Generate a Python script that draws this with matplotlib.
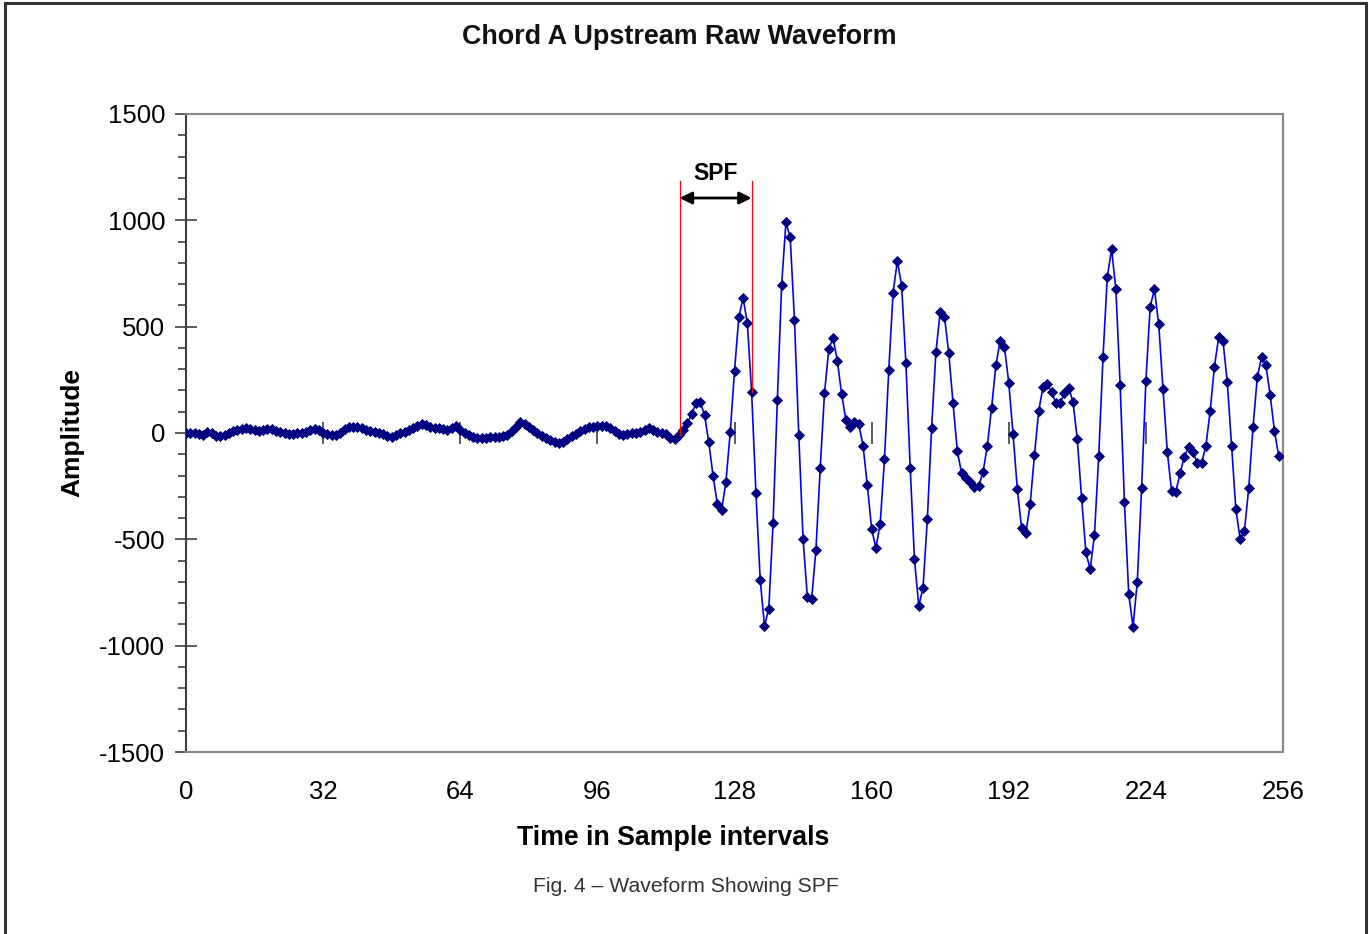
import matplotlib
matplotlib.use("Agg")
import matplotlib.pyplot as plt
from matplotlib.patches import Rectangle
from matplotlib.ticker import MultipleLocator

plt.rcParams['font.family'] = ['Liberation Sans', 'DejaVu Sans']

title = "Chord A Upstream Raw Waveform"
x_label = "Time in Sample intervals"
y_label = "Amplitude"
caption = "Fig. 4 \u2013 Waveform Showing SPF"
spf_label = "SPF"

x_ticks = [0, 32, 64, 96, 128, 160, 192, 224, 256]
y_ticks = [-1500, -1000, -500, 0, 500, 1000, 1500]

# Sample values, index 0..255
amplitude = [
    0, 2, 0, -5, -8, 3, -2, -12, -15, -8,
    0, 8, 14, 20, 22, 18, 12, 10, 15, 20,
    18, 10, 4, -2, -6, -3, 0, 2, 5, 12,
    20, 14, 0, -5, -9, -8, -2, 18, 26, 28,
    30, 24, 14, 8, 4, 0, -6, -14, -17, -10,
    -2, 6, 14, 24, 34, 42, 38, 30, 24, 22,
    18, 15, 22, 32, 14, 0, -10, -18, -22, -24,
    -22, -20, -20, -18, -16, -8, 8, 30, 52, 40,
    26, 12, 0, -12, -22, -32, -42, -47, -40, -28,
    -16, -4, 8, 20, 26, 30, 32, 34, 31, 22,
    8, -4, -8, -6, -2, 0, 4, 12, 22, 16,
    4, 0, -5, -22, -30, -10, 14, 45, 88, 140,
    146, 85, -44, -202, -334, -362, -229, 3, 291, 544,
    636, 516, 191, -281, -691, -907, -826, -425, 155, 697,
    990, 920, 530, -11, -498, -769, -780, -550, -166, 187,
    395, 447, 340, 182, 61, 27, 53, 41, -60, -246,
    -451, -541, -426, -122, 296, 657, 810, 693, 328, -163,
    -594, -813, -727, -406, 25, 379, 570, 547, 375, 140,
    -85, -190, -213, -232, -252, -248, -185, -60, 119, 320,
    434, 403, 237, -5, -263, -448, -469, -334, -103, 105,
    218, 229, 194, 140, 142, 187, 213, 144, -30, -307,
    -561, -641, -480, -107, 359, 735, 864, 676, 224, -326,
    -758, -911, -699, -260, 244, 594, 676, 511, 205, -88,
    -273, -276, -187, -111, -64, -88, -143, -143, -61, 103,
    312, 453, 432, 238, -61, -359, -500, -459, -260, 27,
    262, 356, 320, 179, 11, -108,
]
samples = list(range(len(amplitude)))

# SPF marker lines (sample positions and heights)
spf_start = 115.2
spf_end = 132
spf_top = 1185
spf_arrow_y = 1105
spf_text_y = 1220

W, H = 1369, 934
fig = plt.figure(figsize=(W / 100, H / 100), dpi=100)
fig.patch.set_facecolor('white')

ax = fig.add_axes([186 / W, 1 - 752 / H, (1283 - 186) / W, (752 - 114) / H])
ax.set_xlim(0, 256)
ax.set_ylim(-1500, 1500)

ax.plot(samples, amplitude, color='#0000FF', linewidth=1.2, zorder=3,
        marker='D', markersize=5.6, markerfacecolor='#000080',
        markeredgecolor='#000080', markeredgewidth=0.6)

# SPF annotation
ax.plot([spf_start, spf_start], [amplitude[115], spf_top], color='#FF0000', linewidth=0.9, zorder=4)
ax.plot([spf_end, spf_end], [amplitude[132], spf_top], color='#FF0000', linewidth=0.9, zorder=4)
ax.annotate('', xy=(spf_start, spf_arrow_y), xytext=(spf_end, spf_arrow_y),
            arrowprops=dict(arrowstyle='<|-|>', color='black', lw=2.0,
                            mutation_scale=18, shrinkA=0, shrinkB=0), zorder=5)
ax.text((spf_start + spf_end) / 2, spf_text_y, spf_label, ha='center', va='center',
        fontsize=16.5, fontweight='bold', color='black')

# spines
for s in ['top', 'right', 'bottom']:
    ax.spines[s].set_color('#888888')
    ax.spines[s].set_linewidth(1.5)
ax.spines['left'].set_color('#404040')
ax.spines['left'].set_linewidth(1.5)

# y axis ticks
ax.yaxis.set_major_locator(MultipleLocator(500))
ax.yaxis.set_minor_locator(MultipleLocator(100))
ax.set_yticks(y_ticks)
ax.set_yticklabels([str(v) for v in y_ticks])
ax.tick_params(axis='y', which='major', direction='inout', length=16, width=1.2,
               color='#404040', labelsize=18.5, pad=7)
ax.tick_params(axis='y', which='minor', direction='out', length=6, width=1.2, color='#404040')

# x tick labels at the bottom, no ticks there
ax.set_xticks(x_ticks)
ax.set_xticklabels([str(v) for v in x_ticks])
ax.tick_params(axis='x', which='major', length=0, labelsize=18.5, pad=20)

# zero-crossing category axis with ticks
sec = ax.secondary_xaxis(0.5)
sec.set_xticks(x_ticks)
sec.tick_params(axis='x', direction='inout', length=16, width=1.2, color='#404040',
                labelbottom=False, labeltop=False)
sec.spines['bottom'].set_color('#777777')
sec.spines['bottom'].set_linewidth(1.5)
for s in ['top', 'left', 'right']:
    sec.spines[s].set_visible(False)

ax.set_xlabel(x_label, fontsize=19.3, fontweight='bold', labelpad=15)
ax.xaxis.label.set_x((673 - 186) / (1283 - 186))
ax.set_ylabel(y_label, fontsize=19, fontweight='bold', labelpad=11)

fig.text(679 / W, 1 - 37 / H, title, ha='center', va='center',
         fontsize=19.4, fontweight='bold', color='#111111')
fig.text(686 / W, 1 - 886 / H, caption, ha='center', va='center',
         fontsize=15.2, color='#333333')

# outer frame
frame = Rectangle((5 / W, -0.05), (1366 - 5) / W, 1.05 - 3.5 / H, transform=fig.transFigure,
                  fill=False, edgecolor='#333333', linewidth=2.2)
fig.patches.append(frame)

fig.savefig('out.png', dpi=100, facecolor='white')
